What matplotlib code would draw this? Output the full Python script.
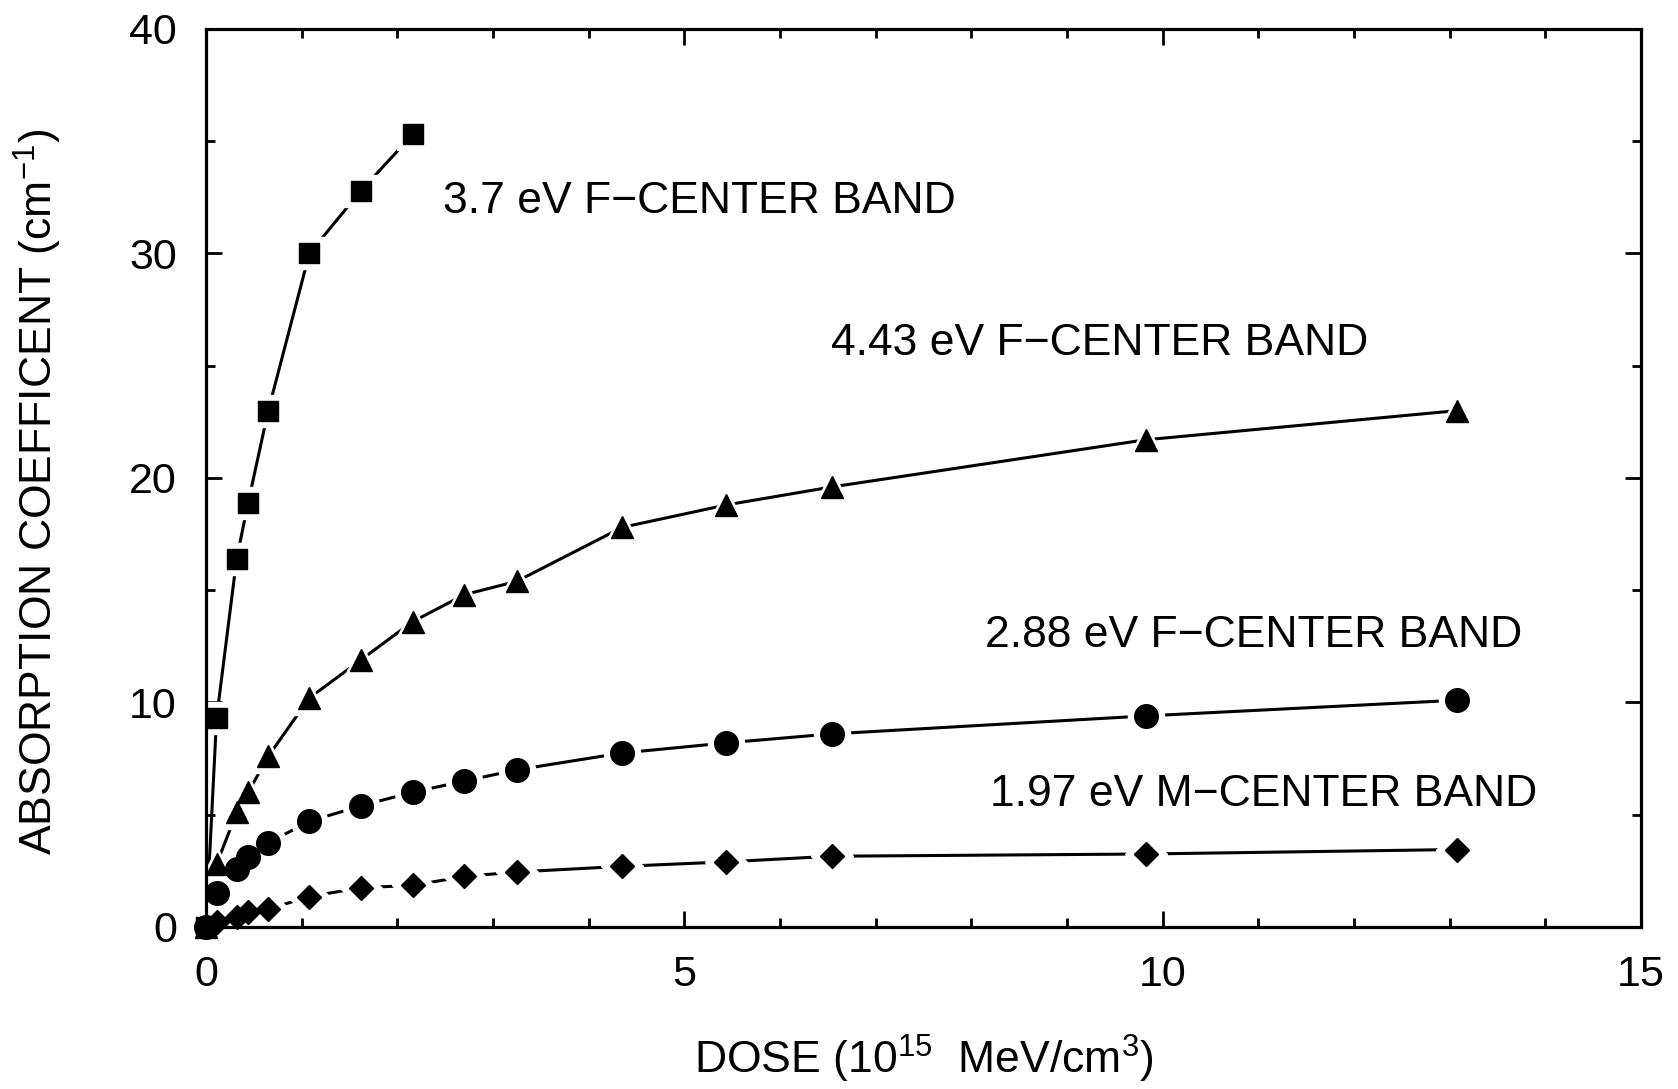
import matplotlib
matplotlib.use("Agg")
import matplotlib.pyplot as plt

plt.rcParams['font.family'] = ['Liberation Sans', 'DejaVu Sans']
plt.rcParams['mathtext.default'] = 'regular'

# dose values (10^15 MeV/cm^3), shared by all bands
dose = [0, 0.11, 0.32, 0.44, 0.65, 1.08, 1.62, 2.16, 2.70, 3.25, 4.35, 5.44, 6.54, 9.82, 13.08]

# absorption coefficients (cm^-1)
band_370 = [0, 9.3, 16.4, 18.9, 23.0, 30.0, 32.8, 35.3]
band_443 = [0, 2.8, 5.1, 6.0, 7.6, 10.2, 11.9, 13.6, 14.8, 15.4, 17.8, 18.8, 19.6, 21.7, 23.0]
band_288 = [0, 1.5, 2.6, 3.1, 3.75, 4.7, 5.4, 6.0, 6.5, 7.0, 7.75, 8.2, 8.6, 9.4, 10.1]
band_197 = [0, 0.2, 0.45, 0.65, 0.8, 1.35, 1.75, 1.85, 2.25, 2.45, 2.7, 2.9, 3.15, 3.25, 3.45]

labels = ["3.7 eV F\u2212CENTER BAND", "4.43 eV F\u2212CENTER BAND",
          "2.88 eV F\u2212CENTER BAND", "1.97 eV M\u2212CENTER BAND"]
label_x = [2.48, 6.53, 8.14, 8.19]
label_y = [32.3, 26.0, 13.0, 5.9]

fig = plt.figure(figsize=(16.78, 10.89), dpi=100)
ax = fig.add_subplot(111)
fig.subplots_adjust(left=0.1228, right=0.978, top=0.9734, bottom=0.1488)

series = [(dose[:len(band_370)], band_370, 's', 14),
          (dose, band_443, '^', 16),
          (dose, band_288, 'o', 17),
          (dose, band_197, 'D', 12)]

for xs, ys, m, ms in series:
    ax.plot(xs, ys, '-', color='black', lw=2.2, zorder=2)
    # white halo leaves a gap between line and marker
    ax.plot(xs, ys, m, ls='none', ms=ms + 9, mfc='white', mec='white', zorder=2.2)
    ax.plot(xs, ys, m, ls='none', ms=ms, mfc='black', mec='black', zorder=4, clip_on=False)

for t, x, y in zip(labels, label_x, label_y):
    ax.text(x, y, t, ha='left', va='center', fontsize=32)

ax.set_xlim(0, 15)
ax.set_ylim(0, 40)
ax.set_xticks([0, 5, 10, 15])
ax.set_xticks(range(0, 16), minor=True)
ax.set_yticks([0, 10, 20, 30, 40])
ax.set_yticks([5, 15, 25, 35], minor=True)
ax.tick_params(which='both', direction='in', top=True, right=True, width=2, labelsize=31)
ax.tick_params(which='major', length=11.5)
ax.tick_params(which='minor', length=6.5)
ax.tick_params(axis='x', pad=20)
ax.tick_params(axis='y', pad=21)
for s in ax.spines.values():
    s.set_linewidth(2.3)
    s.set_zorder(3)

ax.set_xlabel("DOSE (10$^{15}$  MeV/cm$^{3}$)", fontsize=32)
ax.xaxis.set_label_coords(0.5, -0.163)
ax.xaxis.label.set_va('baseline')
ax.set_ylabel("ABSORPTION COEFFICENT (cm$^{-1}$)", fontsize=32)
ax.yaxis.set_label_coords(-0.099, 0.484)

fig.savefig("out.png", dpi=100)
plt.close()
